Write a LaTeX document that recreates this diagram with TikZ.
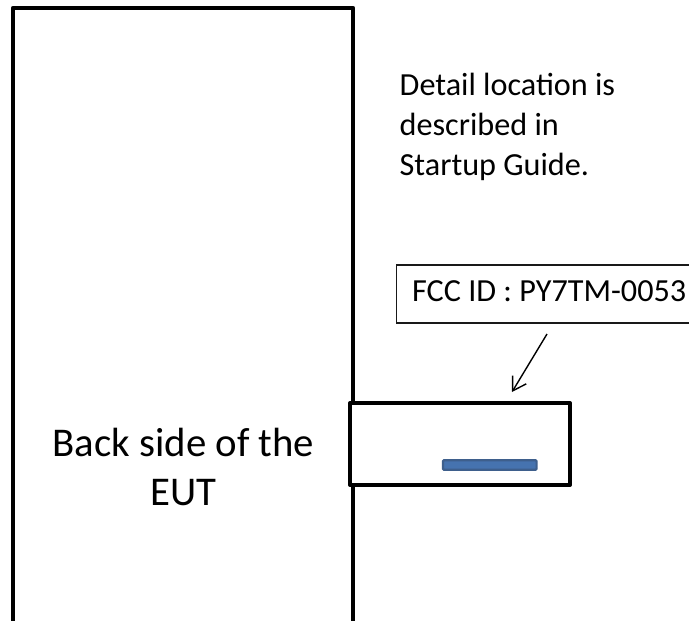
\documentclass[tikz,border=0pt]{standalone}
\usetikzlibrary{arrows.meta}
\usepackage{fontspec}
\setmainfont{Carlito}
\begin{document}
\begin{tikzpicture}[x=1pt,y=-1pt,
  heavy/.style={draw=black,line width=4pt,line join=round},
  thinbox/.style={draw=black!90,line width=1.5pt,fill=white},
  txt/.style={font=\fontsize{32.2}{40}\selectfont,align=left,anchor=north west,inner sep=0pt},
  big/.style={font=\fontsize{40.8}{49}\selectfont,align=center,inner sep=0pt},
  pointer/.style={draw=black,line width=1.4pt,-{Straight Barb[length=13pt,width=16pt]}}]
\useasboundingbox (0,0) rectangle (689,621);
\clip (0,0) rectangle (689,621);
\fill[white] (0,0) rectangle (689,621);
\draw[heavy,line width=4.2pt] (13,630) -- (13,8) -- (353,8) -- (353,630);
\node[heavy,fill=white,inner sep=0pt,outer sep=0pt,minimum width=220pt,minimum height=82pt,anchor=north west] (panel) at (350,403) {};
\draw[fill={rgb,255:red,70;green,115;blue,175},draw={rgb,255:red,62;green,95;blue,140},line width=2.2pt,rounded corners=1pt] (443,460.2) rectangle (536.6,469.8);
\node[thinbox,minimum width=330pt,minimum height=58pt,anchor=north west,inner sep=0pt] (label) at (395.7,264) {};
\node[font=\fontsize{32.2}{38}\selectfont,anchor=base west,inner sep=0pt] (labeltext) at (412,301.7) {FCC ID : PY7TM-0053};
\coordinate (tail) at (547,334);
\coordinate (head) at (512,392);
\draw[pointer] (tail) -- (head);
\node[txt] (note) at (399.5,73) {Detail location is\\described in\\Startup Guide.};
\node[big] (back) at (183.5,467) {Back side of the\\EUT};
\end{tikzpicture}
\end{document}
